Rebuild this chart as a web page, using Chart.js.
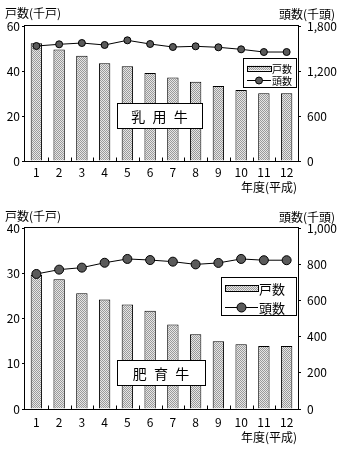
<!DOCTYPE html>
<html lang="ja">
<head>
<meta charset="utf-8">
<title>乳用牛・肥育牛の飼養戸数と頭数</title>
<script src="https://cdn.jsdelivr.net/npm/chart.js@4.4.1/dist/chart.umd.min.js"></script>
<style>
  body { margin: 0; background: #fff; }
  canvas { position: absolute; left: 0; }
  #dairyChart { top: 0; }
  #beefChart { top: 198px; }
</style>
</head>
<body>
<canvas id="dairyChart" width="339" height="198"></canvas>
<canvas id="beefChart" width="339" height="251"></canvas>
<script>
// 年度(平成)
const years = ["1", "2", "3", "4", "5", "6", "7", "8", "9", "10", "11", "12"];

// 乳用牛: 戸数(千戸), 頭数(千頭)
const dairyHouseholds = [52.3, 49.6, 46.8, 43.4, 42.1, 39.1, 37.1, 35.2, 33.3, 31.6, 30.1, 30.1];
const dairyHead = [1533, 1556, 1573, 1547, 1609, 1560, 1520, 1529, 1516, 1489, 1453, 1453];

// 肥育牛: 戸数(千戸), 頭数(千頭)
const beefHouseholds = [29.6, 28.7, 25.6, 24.2, 23.1, 21.7, 18.7, 16.5, 15.0, 14.3, 13.9, 13.9];
const beefHead = [746, 770, 781, 808, 829, 823, 814, 799, 807, 829, 822, 822];

const FONT = '"Noto Sans CJK JP", "Noto Sans", sans-serif';

// 棒の網掛け
function hatch(ctx) {
  const c = document.createElement("canvas");
  c.width = 2;
  c.height = 2;
  const g = c.getContext("2d");
  g.fillStyle = "#e6e6e6";
  g.fillRect(0, 0, 2, 2);
  g.fillStyle = "#9a9a9a";
  g.fillRect(0, 0, 1, 1);
  g.fillRect(1, 1, 1, 1);
  return ctx.createPattern(c, "repeat");
}

// 枠、目盛り、凡例、見出しを描く
const decor = {
  id: "decor",
  afterDatasetsDraw(chart, args, o) {
    const { ctx, chartArea: a, scales } = chart;
    ctx.save();
    ctx.strokeStyle = "#000";
    ctx.lineWidth = 1;

    // 外枠
    const l = Math.round(a.left) - 0.5, r = Math.round(a.right) + 0.5;
    const t = Math.round(a.top) - 0.5, b = Math.round(a.bottom) + 0.5;
    ctx.strokeRect(l, t, r - l, b - t);

    // 横軸の内向き目盛り (区切り位置)
    ctx.beginPath();
    for (let i = 1; i < years.length; i++) {
      const x = Math.round((scales.x.getPixelForValue(i - 1) + scales.x.getPixelForValue(i)) / 2) + 0.5;
      ctx.moveTo(x, b);
      ctx.lineTo(x, b - 4);
    }
    ctx.stroke();

    // 品種名の囲み
    const nb = o.nameBox;
    ctx.fillStyle = "#fff";
    ctx.fillRect(nb.x, nb.y, nb.w, nb.h);
    ctx.strokeRect(nb.x + 0.5, nb.y + 0.5, nb.w, nb.h);
    ctx.fillStyle = "#000";
    ctx.font = "14px " + FONT;
    ctx.textAlign = "center";
    ctx.textBaseline = "middle";
    ctx.letterSpacing = "2px";
    ctx.fillText(o.name, nb.x + nb.w / 2 + 1, nb.y + nb.h / 2 + 1);
    ctx.letterSpacing = "0px";

    // 凡例
    const lg = o.legend;
    const bar = chart.data.datasets[1], line = chart.data.datasets[0];
    ctx.fillStyle = "#fff";
    ctx.fillRect(lg.x, lg.y, lg.w, lg.h);
    ctx.strokeRect(lg.x + 0.5, lg.y + 0.5, lg.w, lg.h);
    ctx.fillStyle = bar.backgroundColor;
    ctx.fillRect(lg.sx, lg.row1 - lg.sh / 2, lg.sw, lg.sh);
    ctx.strokeRect(lg.sx + 0.5, Math.round(lg.row1 - lg.sh / 2) + 0.5, lg.sw, Math.round(lg.sh));
    ctx.beginPath();
    ctx.moveTo(lg.sx, Math.round(lg.row2) + 0.5);
    ctx.lineTo(lg.sx + lg.sw, Math.round(lg.row2) + 0.5);
    ctx.stroke();
    ctx.beginPath();
    ctx.arc(lg.sx + lg.sw / 2, lg.row2 + 0.5, line.pointRadius, 0, Math.PI * 2);
    ctx.fillStyle = line.pointBackgroundColor;
    ctx.fill();
    ctx.stroke();
    ctx.fillStyle = "#000";
    ctx.font = lg.font + "px " + FONT;
    ctx.textAlign = "left";
    ctx.fillText(bar.label, lg.sx + lg.sw + 1, lg.row1 + 1);
    ctx.fillText(line.label, lg.sx + lg.sw + 1, lg.row2 + 1);

    // 軸の見出し
    ctx.font = "12px " + FONT;
    ctx.textAlign = "left";
    ctx.fillText("戸数(千戸)", 5, o.titleY);
    ctx.textAlign = "right";
    ctx.fillText("頭数(千頭)", 335, o.titleY + 1);
    ctx.fillText("年度(平成)", 297, o.xTitleY);
    ctx.restore();
  }
};

function makeChart(id, o) {
  const ctx = document.getElementById(id).getContext("2d");
  const tickFont = { family: FONT, size: 12 };
  return new Chart(ctx, {
    data: {
      labels: years,
      datasets: [
        {
          type: "line",
          label: "頭数",
          data: o.head,
          yAxisID: "y1",
          borderColor: "#000",
          borderWidth: 1,
          pointBackgroundColor: "#5a5a5a",
          pointBorderColor: "#000",
          pointBorderWidth: 1,
          pointRadius: o.pointRadius,
          tension: 0,
          order: 0,
          clip: false
        },
        {
          type: "bar",
          label: "戸数",
          data: o.households,
          yAxisID: "y",
          backgroundColor: hatch(ctx),
          borderColor: "#000",
          borderWidth: 1,
          barPercentage: 0.5,
          categoryPercentage: 1,
          order: 1
        }
      ]
    },
    options: {
      responsive: false,
      animation: false,
      layout: { padding: { top: o.top, left: 0, right: 0, bottom: 0 } },
      plugins: {
        legend: { display: false },
        tooltip: { enabled: false },
        decor: o.decor
      },
      scales: {
        x: {
          grid: { display: false, drawTicks: false },
          border: { display: false },
          ticks: { color: "#000", font: tickFont, padding: o.xPad, maxRotation: 0, autoSkip: false },
          afterFit(s) { s.height = o.xHeight; }
        },
        y: {
          position: "left",
          min: 0,
          max: o.leftMax,
          ticks: { stepSize: o.leftStep, color: "#000", font: tickFont, padding: 2 },
          grid: { drawOnChartArea: false, tickLength: 3, color: "#000" },
          border: { display: false },
          afterFit(s) { s.width = 25; }
        },
        y1: {
          position: "right",
          min: 0,
          max: o.rightMax,
          ticks: {
            stepSize: o.rightStep,
            color: "#000",
            font: tickFont,
            padding: 6,
            callback: v => v.toLocaleString("en-US")
          },
          grid: { drawOnChartArea: false, tickLength: 3, color: "#000" },
          border: { display: false },
          afterFit(s) { s.width = 41; }
        }
      }
    },
    plugins: [decor]
  });
}

makeChart("dairyChart", {
  households: dairyHouseholds,
  head: dairyHead,
  leftMax: 60, leftStep: 20,
  rightMax: 1800, rightStep: 600,
  pointRadius: 3.5,
  top: 26, xHeight: 37, xPad: 4,
  decor: {
    name: "乳 用 牛",
    nameBox: { x: 117, y: 103, w: 85, h: 25 },
    legend: { x: 243, y: 58, w: 53, h: 29, sx: 247, sw: 24, sh: 4.5, row1: 68, row2: 80, font: 10 },
    titleY: 13,
    xTitleY: 187
  }
});

makeChart("beefChart", {
  households: beefHouseholds,
  head: beefHead,
  leftMax: 40, leftStep: 10,
  rightMax: 1000, rightStep: 200,
  pointRadius: 4.5,
  top: 30, xHeight: 40, xPad: 6,
  decor: {
    name: "肥 育 牛",
    nameBox: { x: 117, y: 162, w: 88, h: 25 },
    legend: { x: 221, y: 79, w: 75, h: 38, sx: 225, sw: 33, sh: 5.5, row1: 90, row2: 109, font: 13 },
    titleY: 18,
    xTitleY: 239
  }
});
</script>
</body>
</html>
